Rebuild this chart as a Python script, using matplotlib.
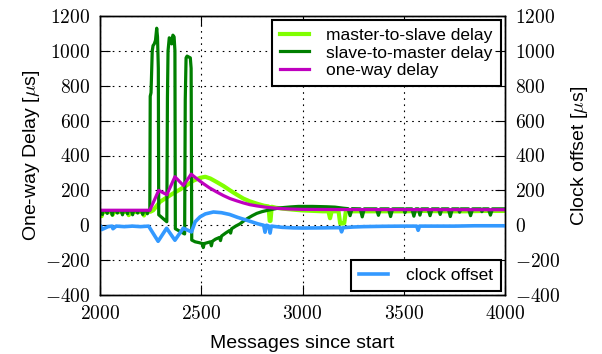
"""One-way delay vs clock offset around a burst of slave-to-master traffic."""

import matplotlib

matplotlib.use("Agg")
import matplotlib.pyplot as plt
from matplotlib.ticker import FuncFormatter, MultipleLocator

LIME, DKGREEN, MAGENTA, BLUE = "#80FF00", "#007F00", "#BF00BF", "#3399FF"

plt.rcParams.update(
    {
        "font.family": ["Liberation Sans", "DejaVu Sans"],
        "mathtext.fontset": "cm",
        "axes.linewidth": 1.0,
    }
)

# master-to-slave delay [us]
m2s_x = [2000, 2004, 2008, 2012, 2030, 2055, 2062, 2069, 2100, 2135, 2142, 2149,
         2180, 2210, 2217, 2224, 2250,
         2263, 2296, 2330, 2362, 2395, 2428, 2460, 2494, 2520, 2545, 2576, 2610,
         2642, 2675, 2708, 2740, 2774, 2810, 2832, 2838, 2842, 2848, 2870, 2905,
         2950,
         3000, 3060, 3100, 3128, 3136, 3144, 3178, 3186, 3198, 3206, 3214, 3260,
         3320, 3400, 3500, 3600, 3700, 3800, 3900, 4000]
m2s_y = [74, 74, 52, 74, 76, 76, 60, 76, 76, 76, 58, 76,
         76, 76, 56, 76, 78,
         86, 134, 160, 183, 205, 229, 255, 272, 278, 268, 248, 225,
         200, 176, 153, 137, 124, 112, 108, 25, 25, 106, 100, 95,
         90,
         85, 82, 80, 80, 40, 80, 80, 10, 10, 12, 80, 80,
         80, 80, 80, 82, 80, 80, 82, 82]

# slave-to-master delay [us]
s2m_x = [2000, 2008, 2012, 2016, 2030, 2036, 2040, 2055, 2061, 2066, 2080, 2086,
         2090, 2105, 2111, 2116, 2130, 2136, 2140, 2155, 2161, 2166, 2180, 2186,
         2190, 2205, 2211, 2216, 2228, 2234, 2238, 2246,
         2248, 2252, 2258, 2262, 2268, 2274, 2280, 2284, 2288,
         2290, 2330,
         2333, 2336, 2342, 2348, 2354, 2360, 2366, 2370,
         2372, 2418,
         2421, 2425, 2430, 2438, 2446, 2450,
         2453, 2470, 2490, 2505, 2510, 2515, 2530, 2545, 2550, 2555, 2570, 2590,
         2595, 2600, 2620, 2640, 2645, 2650, 2670, 2691, 2710, 2730, 2752, 2774,
         2800, 2825, 2856, 2880, 2910, 2940, 2980, 3050, 3120, 3160,
         3200, 3225, 3235, 3245, 3285, 3295, 3305, 3365, 3375, 3385, 3425, 3435,
         3445, 3500, 3506, 3512, 3540, 3550, 3560, 3572, 3580, 3588, 3620, 3630,
         3640, 3672, 3680, 3688, 3720, 3730, 3740, 3770, 3776, 3782, 3820, 3830,
         3840, 3880, 3886, 3892, 3918, 3928, 3938, 4000]
s2m_y = [84, 84, 62, 84, 84, 68, 84, 84, 58, 84, 84, 70,
         84, 84, 60, 84, 84, 66, 84, 84, 60, 84, 84, 70,
         84, 84, 62, 84, 84, 66, 84, 85,
         740, 760, 1000, 1030, 1040, 1060, 1130, 1080, 900,
         60, 20,
         730, 1000, 1075, 1070, 1040, 1090, 1080, 1000,
         -20, -50,
         720, 960, 970, 965, 960, 900,
         -85, -95, -100, -105, -128, -105, -100, -95, -118, -92, -80, -70,
         -88, -62, -45, -30, -45, -20, -5, 8, 25, 40, 55, 68,
         78, 85, 92, 98, 102, 105, 108, 108, 106, 104,
         98, 95, 55, 95, 94, 48, 94, 94, 57, 94, 94, 50,
         94, 94, 72, 94, 94, 52, 94, 94, 58, 94, 94, 55,
         94, 94, 62, 94, 94, 50, 94, 94, 75, 94, 94, 55,
         94, 94, 78, 94, 94, 58, 94, 94]

# one-way delay [us]
owd_x = [2000, 2246, 2290, 2330, 2370, 2412, 2450, 2480, 2510, 2540, 2576, 2610,
         2642, 2675, 2708, 2740, 2774, 2815, 2856, 2900, 2938, 3000, 3200, 4000]
owd_y = [86, 86, 200, 175, 278, 228, 293, 265, 239, 215, 191, 170,
         153, 140, 128, 118, 111, 104, 99, 95, 93, 91, 90, 89]

# clock offset [us]
off_x = [2000, 2004, 2008, 2040, 2060, 2064, 2080, 2120, 2160, 2200, 2240, 2287,
         2329, 2370, 2411, 2452, 2470, 2494, 2520, 2560, 2600, 2640, 2680, 2724,
         2780, 2808, 2815, 2822, 2834, 2840, 2846, 2900, 2955, 3000, 3100, 3160,
         3186, 3193, 3200, 3250, 3300, 3400, 3500, 3564, 3571, 3578, 3650, 3750,
         3850, 3950, 4000]
off_y = [-5, -5, -25, -8, -5, -20, -5, -8, -5, -8, -5, -92,
         -17, -86, -17, -38, 20, 48, 65, 76, 72, 62, 45, 29,
         8, 0, -40, 0, -5, -45, -5, -12, -15, -16, -15, -14,
         -14, -38, -14, -10, -8, -6, -5, -5, -29, -5, -5, -5,
         -3, -3, -3]

for xs, ys in [(m2s_x, m2s_y), (s2m_x, s2m_y), (owd_x, owd_y), (off_x, off_y)]:
    assert len(xs) == len(ys), (len(xs), len(ys))

XTICKS = [2000, 2500, 3000, 3500, 4000]
YLIM = (-400, 1200)

fig = plt.figure(figsize=(6.02, 3.54), dpi=100)
ax = fig.add_axes([100 / 602, 59 / 354, 405 / 602, 279 / 354])
ax2 = ax.twinx()

ax.plot(m2s_x, m2s_y, color=LIME, lw=3.0, label="master-to-slave delay")
ax.plot(s2m_x, s2m_y, color=DKGREEN, lw=2.3, label="slave-to-master delay")
ax.plot(owd_x, owd_y, color=MAGENTA, lw=2.3, label="one-way delay")
ax2.plot(off_x, off_y, color=BLUE, lw=2.6, label="clock offset")

math_fmt = FuncFormatter(lambda v, p: f"${v:.0f}$")
for a in (ax, ax2):
    a.set_xlim(2000, 4000)
    a.set_ylim(*YLIM)
    a.yaxis.set_major_locator(MultipleLocator(200))
    a.yaxis.set_major_formatter(math_fmt)
    a.tick_params(direction="in", length=7, width=0.8, labelsize=14, pad=7)
ax.set_xticks(XTICKS)
ax.xaxis.set_major_formatter(math_fmt)
ax.tick_params(top=True)
ax.grid(True, color="black", lw=0.8, linestyle=(0, (1.5, 4)))

ax.set_xlabel("Messages since start", fontsize=14, labelpad=9)
ax.set_ylabel(r"One-way Delay [$\mu$s]", fontsize=14, labelpad=2)
ax2.set_ylabel(r"Clock offset [$\mu$s]", fontsize=14, labelpad=6)

leg_kw = dict(fontsize=12.5, fancybox=False, edgecolor="black", framealpha=1,
              handlelength=1.7, handletextpad=1.0, labelspacing=0.12,
              borderaxespad=0.25, borderpad=0.45)
leg = ax.legend(loc="upper right", **leg_kw)
leg.get_frame().set_linewidth(1.5)
leg2 = ax2.legend(loc="lower right", **leg_kw)
leg2.get_frame().set_linewidth(1.5)

fig.savefig("out.png", dpi=100)
